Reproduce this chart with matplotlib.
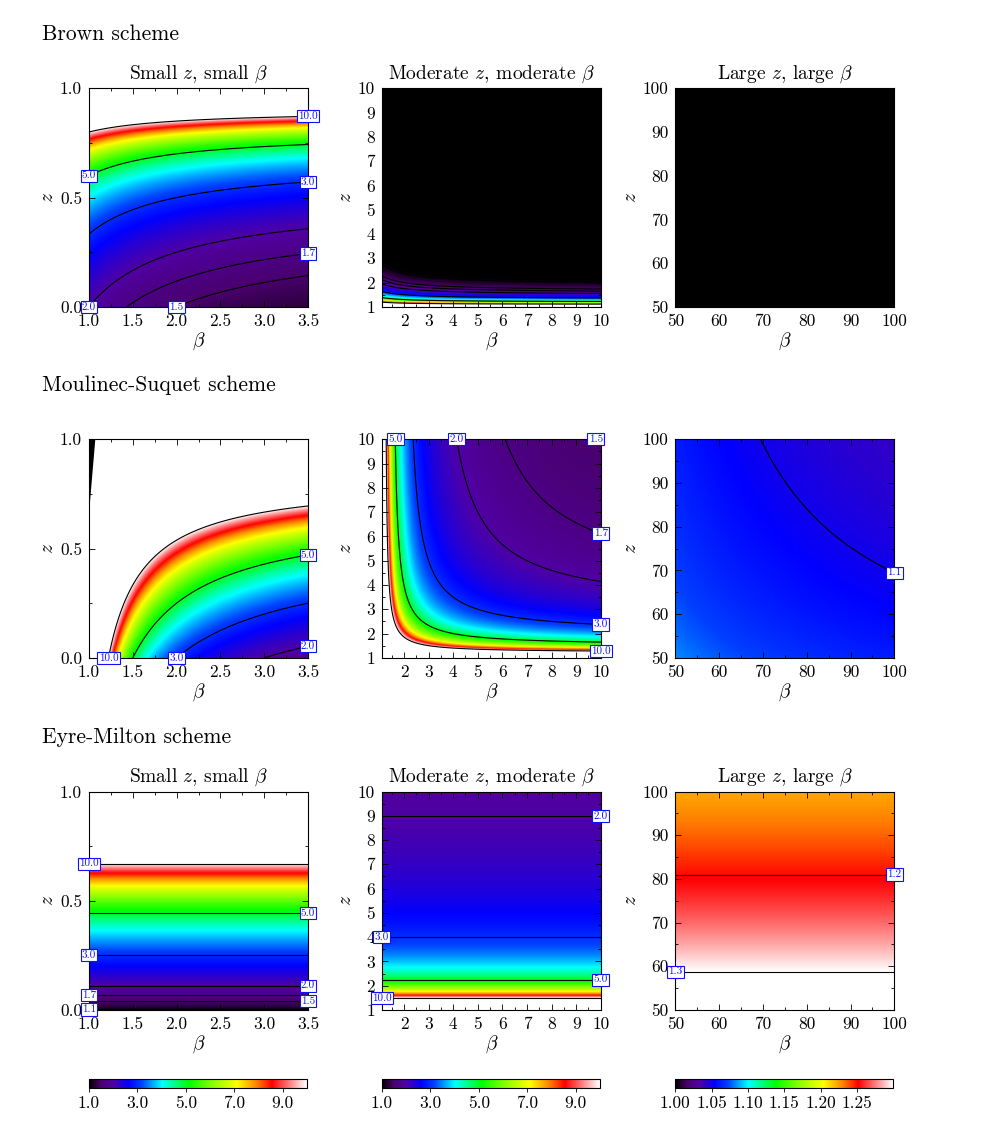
import matplotlib

matplotlib.use("Agg")
import matplotlib.pyplot as plt
import numpy as np
from matplotlib.cm import ScalarMappable
from matplotlib.colors import LinearSegmentedColormap, Normalize
from matplotlib.ticker import FormatStrFormatter, MultipleLocator

plt.rcParams.update(
    {
        "font.family": "serif",
        "font.serif": ["cmr10", "DejaVu Serif"],
        "mathtext.fontset": "cm",
        "axes.formatter.use_mathtext": True,
        "axes.linewidth": 0.8,
    }
)

# ==================== Chart content ====================
SCHEMES = ["Brown scheme", "Moulinec-Suquet scheme", "Eyre-Milton scheme"]
COLUMN_TITLES = [
    r"Small $z$, small $\beta$",
    r"Moderate $z$, moderate $\beta$",
    r"Large $z$, large $\beta$",
]
ROW_HAS_TITLES = [True, False, True]

BETA_RANGES = [(1.0, 3.5), (1.1, 10.0), (50.0, 100.0)]
Z_RANGES = [(0.0, 1.0), (1.0, 10.0), (50.0, 100.0)]
COLOR_RANGES = [(1.0, 10.0), (1.0, 10.0), (1.0, 1.30)]

LEVELS_SMALL = [1.1, 1.5, 1.7, 2.0, 3.0, 5.0, 10.0]
LEVELS_LARGE = [1.05, 1.10, 1.15, 1.20, 1.25, 1.30]
LEVELS = [LEVELS_SMALL, LEVELS_SMALL, LEVELS_LARGE]

MAJOR_STEPS = [0.5, 1.0, 10.0]
TICK_FORMATS = ["%.1f", "%d", "%d"]
CBAR_TICKS = [
    [1.0, 3.0, 5.0, 7.0, 9.0],
    [1.0, 3.0, 5.0, 7.0, 9.0],
    [1.00, 1.05, 1.10, 1.15, 1.20, 1.25],
]
CBAR_FORMATS = ["%.1f", "%.1f", "%.2f"]

# which end of each contour carries its label
LABEL_SIDES = {
    (0, 0): {10.0: "right", 5.0: "left", 3.0: "right", 2.0: "bottom", 1.7: "right", 1.5: "bottom"},
    (0, 1): {},
    (0, 2): {},
    (1, 0): {10.0: "bottom", 5.0: "right", 3.0: "bottom", 2.0: "right"},
    (1, 1): {10.0: "right", 5.0: "top", 3.0: "right", 2.0: "top", 1.7: "right", 1.5: "top"},
    (1, 2): {1.05: "right"},
    (2, 0): {10.0: "left", 5.0: "right", 3.0: "left", 2.0: "right", 1.7: "left", 1.5: "right", 1.1: "left"},
    (2, 1): {10.0: "left", 5.0: "right", 3.0: "left", 2.0: "right"},
    (2, 2): {1.30: "left", 1.25: "right"},
}

# black (divergent) sliver in the Moulinec-Suquet small-z panel
WEDGE_BETA = [1.0, 1.072, 1.0]
WEDGE_Z = [1.0, 1.0, 0.66]

# colour scale: black -> purple -> blue -> cyan -> green -> yellow -> red -> white
CMAP_POS = [0.0, 0.032, 0.056, 0.11, 0.18, 0.24, 0.335, 0.46, 0.56, 0.68, 0.77, 0.84, 1.0]
CMAP_COLORS = [
    "#000000", "#2e0040", "#4a0070", "#5000a4", "#0000ff", "#0040ff", "#00ffff",
    "#00ff00", "#80ff00", "#ffff00", "#ff8000", "#ff0000", "#ffffff",
]
# =======================================================


def brown_field(beta, z):
    return (beta + 1.0) / (beta * np.abs(1.0 - z))


def ms_field(beta, z):
    return np.abs((1.0 + z) * (beta + 1.0) / ((1.0 - z) * (beta - 1.0)))


def em_field(beta, z):
    s = np.sqrt(z)
    return (1.0 + s) / np.abs(1.0 - s) + 0.0 * beta


FIELDS = [brown_field, ms_field, em_field]

W, H = 981, 1138
COL_LEFT = [89.0, 381.8, 675.3]
ROW_TOP = [88.3, 439.3, 791.5]
PANEL_W, PANEL_H = 219.0, 218.5
CBAR_TOP, CBAR_H = 1079.0, 9.3
SECTION_Y = [34.0, 385.0, 737.0]


def fig_rect(left, top, width, height):
    return [left / W, 1.0 - (top + height) / H, width / W, height / H]


def style_axes(ax, col):
    step = MAJOR_STEPS[col]
    for axis in (ax.xaxis, ax.yaxis):
        axis.set_major_locator(MultipleLocator(step))
        axis.set_minor_locator(MultipleLocator(step / 2.0))
        axis.set_major_formatter(FormatStrFormatter(TICK_FORMATS[col]))
    ax.tick_params(which="both", direction="in", top=True, right=True, labelsize=12.5)
    ax.tick_params(which="major", length=4, width=0.6)
    ax.tick_params(which="minor", length=2.2, width=0.6)
    ax.tick_params(axis="x", pad=5)
    ax.tick_params(axis="y", pad=5)
    ax.set_xlabel(r"$\beta$", fontsize=14, labelpad=1)
    ax.set_ylabel(r"$z$", fontsize=14, labelpad=2)


def add_labels(ax, cs, levels, sides):
    for lev, side in sides.items():
        idx = levels.index(lev)
        segs = [s for s in cs.allsegs[idx] if len(s)]
        if not segs:
            continue
        pts = np.vstack(segs)
        pick = {
            "left": np.argmin(pts[:, 0]),
            "right": np.argmax(pts[:, 0]),
            "bottom": np.argmin(pts[:, 1]),
            "top": np.argmax(pts[:, 1]),
        }[side]
        x, y = pts[pick]
        ax.text(
            x, y, f"{lev:.1f}", ha="center", va="center", fontsize=8, color="#1010ff",
            bbox=dict(boxstyle="square,pad=0.12", fc="white", ec="#1010ff", lw=0.8),
            clip_on=False, zorder=6,
        )


def main():
    fig = plt.figure(figsize=(W / 100, H / 100), dpi=100)
    cmap = LinearSegmentedColormap.from_list("gp_rainbow", list(zip(CMAP_POS, CMAP_COLORS)), N=512)

    for row, scheme in enumerate(SCHEMES):
        fig.text(42 / W, 1.0 - SECTION_Y[row] / H, scheme, fontsize=15.5, va="center", ha="left")
        for col in range(3):
            ax = fig.add_axes(fig_rect(COL_LEFT[col], ROW_TOP[row], PANEL_W, PANEL_H))
            b0, b1 = BETA_RANGES[col]
            z0, z1 = Z_RANGES[col]
            beta = np.linspace(b0, b1, 500)
            zz = np.linspace(z0, z1, 500)
            B, Z = np.meshgrid(beta, zz)
            with np.errstate(divide="ignore", invalid="ignore"):
                F = FIELDS[row](B, Z)
            F = np.nan_to_num(F, nan=1e4, posinf=1e4)
            F = np.clip(F, 0.0, 1e4)
            vmin, vmax = COLOR_RANGES[col]
            norm = Normalize(vmin=vmin, vmax=vmax, clip=True)
            ax.imshow(
                F, origin="lower", extent=(b0, b1, z0, z1), aspect="auto",
                cmap=cmap, norm=norm, interpolation="bilinear", zorder=1,
            )
            if row == 1 and col == 0:
                ax.fill(WEDGE_BETA, WEDGE_Z, color="black", lw=0, zorder=2)
            cs = ax.contour(B, Z, F, levels=LEVELS[col], colors="black", linewidths=0.8, zorder=3)
            add_labels(ax, cs, LEVELS[col], LABEL_SIDES[(row, col)])
            ax.set_xlim(b0, b1)
            ax.set_ylim(z0, z1)
            style_axes(ax, col)
            if ROW_HAS_TITLES[row]:
                ax.set_title(COLUMN_TITLES[col], fontsize=14, pad=7)

    for col in range(3):
        cax = fig.add_axes(fig_rect(COL_LEFT[col], CBAR_TOP, PANEL_W - 1, CBAR_H))
        vmin, vmax = COLOR_RANGES[col]
        sm = ScalarMappable(norm=Normalize(vmin=vmin, vmax=vmax), cmap=cmap)
        cb = fig.colorbar(sm, cax=cax, orientation="horizontal", ticks=CBAR_TICKS[col])
        cb.ax.xaxis.set_major_formatter(FormatStrFormatter(CBAR_FORMATS[col]))
        cb.ax.tick_params(labelsize=12.5, length=3, width=0.6, pad=2)
        cb.outline.set_linewidth(0.8)

    fig.savefig("out.png", dpi=100)
    plt.close(fig)


if __name__ == "__main__":
    main()
